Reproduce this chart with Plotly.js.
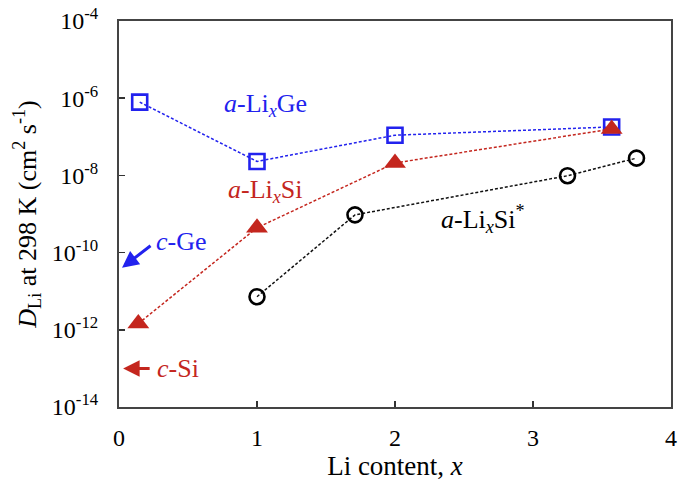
<!DOCTYPE html>
<html>
<head>
<meta charset="utf-8">
<script src="https://cdn.plot.ly/plotly-3.0.1.min.js"></script>
<style>html,body{margin:0;padding:0;background:#fff;}</style>
</head>
<body>
<div id="chart" style="width:678px;height:483px;"></div>
<script>
// a-LixGe (blue open squares)
const geX = [0.15, 1.0, 2.0, 3.57];
const geY = [7.9e-7, 2.3e-8, 1.1e-7, 1.8e-7];
// a-LixSi (red triangles)
const siX = [0.14, 1.0, 2.0, 3.57];
const siY = [1.45e-12, 4.4e-10, 2.1e-8, 1.6e-7];
// a-LixSi* (black open circles)
const siStarX = [1.0, 1.71, 3.25, 3.75];
const siStarY = [7.2e-12, 9.5e-10, 9.8e-9, 2.8e-8];
// axis ticks
const xTicks = [0, 1, 2, 3, 4];
const yTickExp = [-14, -12, -10, -8, -6, -4];
const yTickVals = yTickExp.map(e => Math.pow(10, e));
const yTickText = yTickExp.map(e => '10<sup>' + String(e) + '</sup>');
// reference values for crystalline phases (arrows)
const cGeY = Math.pow(10, -10.39);
const cSiY = Math.pow(10, -13.0);

const BLUE = '#2222ee';
const RED = '#c4261e';
const FONT = 'Liberation Serif, Times New Roman, serif';

const traces = [
  {x: siStarX, y: siStarY, mode: 'lines+markers', type: 'scatter',
   line: {color: '#111', width: 1.5, dash: '3px,2px'},
   marker: {symbol: 'circle-open', size: 15, color: '#000', line: {width: 2.6, color: '#000'}}},
  {x: geX, y: geY, mode: 'lines+markers', type: 'scatter',
   line: {color: BLUE, width: 1.5, dash: '3px,2px'},
   marker: {symbol: 'square-open', size: 15, color: BLUE, line: {width: 2.6, color: BLUE}}},
  {x: siX, y: siY, mode: 'lines+markers', type: 'scatter',
   line: {color: RED, width: 1.5, dash: '3px,2px'},
   marker: {symbol: 'triangle-up', size: 19, color: RED, line: {width: 0}}}
];

const layout = {
  width: 678, height: 483,
  margin: {l: 119, r: 7, t: 21, b: 76},
  paper_bgcolor: '#fff', plot_bgcolor: '#fff',
  showlegend: false,
  font: {family: FONT, color: '#000', size: 24},
  xaxis: {
    range: [0, 4], tickvals: xTicks, ticktext: xTicks.map(String),
    ticks: 'inside', ticklen: 6, tickwidth: 1.5, tickcolor: '#333',
    showline: true, linecolor: '#444', linewidth: 2, mirror: true,
    showgrid: false, zeroline: false,
    tickfont: {family: FONT, size: 24, color: '#000'},
    ticklabelstandoff: 8,
    title: {text: 'Li content, <i>x</i>', font: {family: FONT, size: 27, color: '#000'}, standoff: 1}
  },
  yaxis: {
    type: 'log', range: [-14, -4], tickvals: yTickVals, ticktext: yTickText,
    ticks: 'inside', ticklen: 6, tickwidth: 1.5, tickcolor: '#333',
    showline: true, linecolor: '#444', linewidth: 2, mirror: true,
    showgrid: false, zeroline: false,
    tickfont: {family: FONT, size: 24, color: '#000'},
    ticklabelstandoff: 14,
    title: {text: '<i>D</i><sub>Li</sub> at 298 K (cm<sup>2</sup> s<sup>-1</sup>)', font: {family: FONT, size: 26, color: '#000'}, standoff: 8}
  },
  annotations: [
    {x: 1.06, y: -6.18, xref: 'x', yref: 'y', showarrow: false,
     text: '<i>a</i>-Li<sub><i>x</i></sub>Ge', font: {family: FONT, size: 26, color: BLUE}},
    {x: 1.06, y: -8.4, xref: 'x', yref: 'y', showarrow: false,
     text: '<i>a</i>-Li<sub><i>x</i></sub>Si', font: {family: FONT, size: 26, color: RED}},
    {x: 2.64, y: -9.12, xref: 'x', yref: 'y', showarrow: false,
     text: '<i>a</i>-Li<sub><i>x</i></sub>Si<sup>*</sup>', font: {family: FONT, size: 26, color: '#000'}},
    {x: 0.45, y: -9.72, xref: 'x', yref: 'y', showarrow: false,
     text: '<i>c</i>-Ge', font: {family: FONT, size: 26, color: BLUE}},
    {x: 0.43, y: -13.0, xref: 'x', yref: 'y', showarrow: false,
     text: '<i>c</i>-Si', font: {family: FONT, size: 26, color: RED}},
    {x: 0.022, y: Math.log10(cGeY), xref: 'x', yref: 'y', text: '', showarrow: true,
     ax: 30, ay: -23, arrowhead: 2, arrowsize: 1.1, arrowwidth: 3, arrowcolor: BLUE},
    {x: 0.03, y: Math.log10(cSiY), xref: 'x', yref: 'y', text: '', showarrow: true,
     ax: 28, ay: 0, arrowhead: 2, arrowsize: 1.1, arrowwidth: 3, arrowcolor: RED}
  ]
};

Plotly.newPlot('chart', traces, layout, {displayModeBar: false, staticPlot: true});
</script>
</body>
</html>
